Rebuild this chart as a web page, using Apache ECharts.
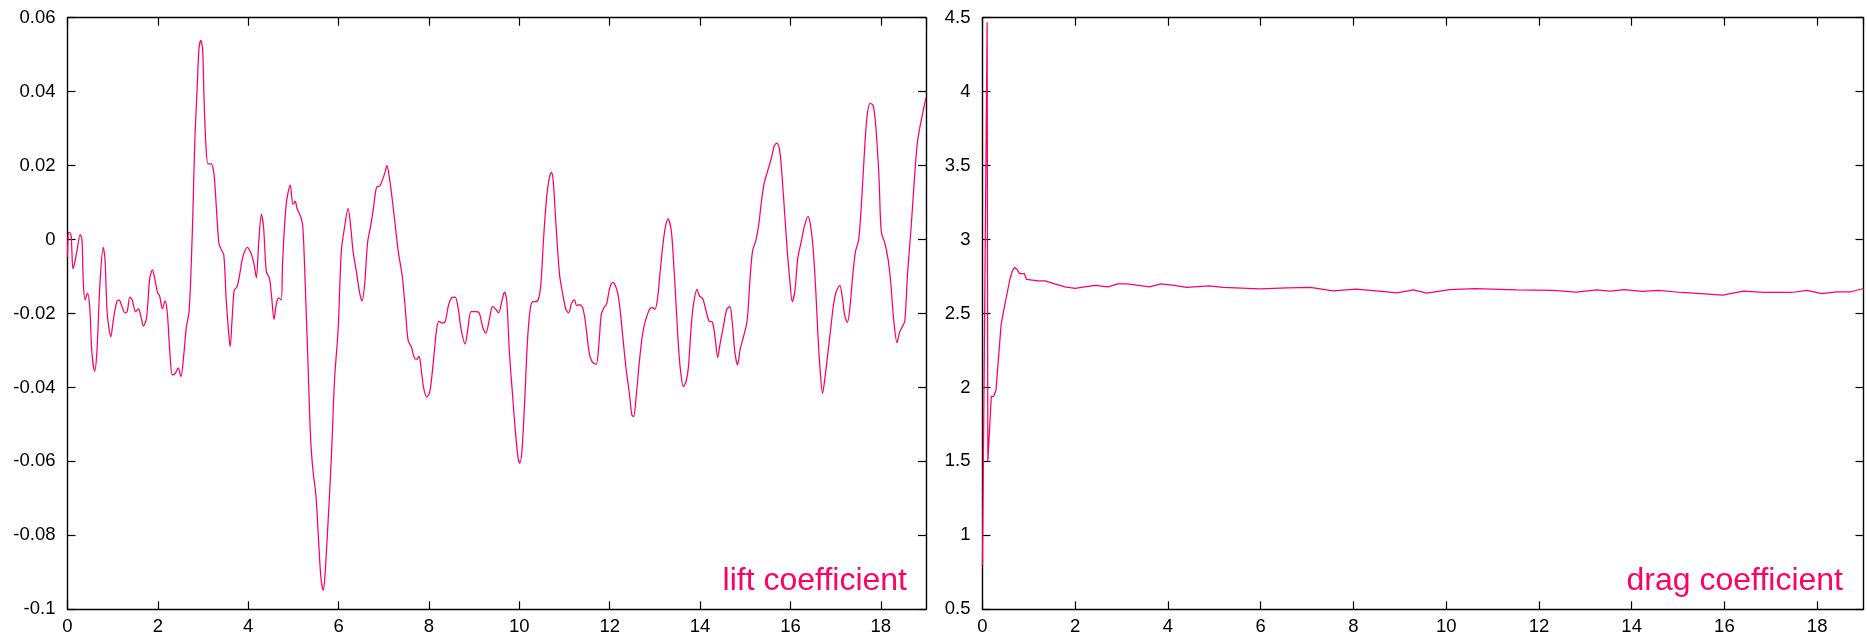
<!DOCTYPE html>
<html><head><meta charset="utf-8">
<script src="https://cdn.jsdelivr.net/npm/echarts@6/dist/echarts.min.js"></script>
<style>html,body{margin:0;padding:0;background:#fff}#c{width:1867px;height:637px}</style>
</head><body><div id="c"></div>
<script>
const liftT = [0.00,0.02,0.044,0.08,0.12,0.15,0.21,0.28,0.32,0.35,0.39,0.44,0.49,0.54,0.60,0.65,0.72,0.79,0.83,0.88,0.96,1.01,1.09,1.14,1.20,1.27,1.32,1.38,1.43,1.51,1.57,1.63,1.68,1.75,1.82,1.88,1.93,1.99,2.04,2.10,2.16,2.21,2.26,2.32,2.38,2.45,2.51,2.57,2.63,2.69,2.74,2.78,2.82,2.87,2.91,2.95,2.99,3.02,3.06,3.11,3.18,3.24,3.29,3.35,3.40,3.46,3.51,3.56,3.60,3.64,3.69,3.75,3.81,3.88,3.98,4.07,4.13,4.18,4.23,4.29,4.34,4.40,4.47,4.52,4.57,4.62,4.67,4.73,4.76,4.84,4.93,4.99,5.04,5.08,5.17,5.21,5.26,5.32,5.38,5.43,5.50,5.56,5.61,5.66,5.70,5.76,5.84,5.91,5.99,6.06,6.13,6.21,6.27,6.32,6.39,6.47,6.52,6.58,6.64,6.71,6.77,6.84,6.91,6.96,7.02,7.07,7.11,7.17,7.24,7.32,7.41,7.47,7.54,7.61,7.67,7.73,7.78,7.82,7.88,7.95,8.02,8.10,8.17,8.22,8.30,8.36,8.43,8.50,8.58,8.65,8.71,8.80,8.86,8.93,9.02,9.11,9.19,9.26,9.34,9.41,9.48,9.54,9.62,9.67,9.72,9.78,9.85,9.91,9.97,10.01,10.06,10.12,10.18,10.24,10.30,10.37,10.43,10.48,10.53,10.59,10.65,10.71,10.75,10.81,10.89,10.96,11.03,11.09,11.16,11.22,11.27,11.33,11.40,11.46,11.51,11.56,11.62,11.70,11.76,11.81,11.86,11.93,12.00,12.07,12.13,12.18,12.23,12.29,12.36,12.44,12.49,12.53,12.58,12.66,12.73,12.80,12.88,12.94,13.00,13.06,13.11,13.17,13.23,13.29,13.36,13.41,13.47,13.53,13.58,13.63,13.69,13.74,13.80,13.85,13.93,13.99,14.06,14.13,14.20,14.27,14.33,14.39,14.44,14.52,14.59,14.66,14.71,14.77,14.83,14.89,14.96,15.04,15.10,15.16,15.24,15.30,15.36,15.42,15.48,15.53,15.59,15.64,15.70,15.76,15.81,15.87,15.93,15.99,16.04,16.10,16.16,16.24,16.31,16.39,16.44,16.50,16.56,16.61,16.66,16.71,16.77,16.83,16.89,16.95,17.01,17.09,17.15,17.20,17.26,17.32,17.38,17.44,17.51,17.57,17.63,17.69,17.76,17.83,17.89,17.96,18.01,18.09,18.16,18.22,18.28,18.36,18.41,18.47,18.53,18.59,18.67,18.74,18.81,18.90,19.00];
const liftCl = [-0.0047,0.0019,0.0019,0.0011,-0.0079,-0.0068,-0.0030,0.0013,0.0000,-0.0116,-0.0163,-0.0145,-0.0180,-0.0305,-0.0356,-0.0305,-0.0116,-0.0021,-0.0053,-0.0200,-0.0263,-0.0221,-0.0168,-0.0163,-0.0179,-0.0198,-0.0195,-0.0156,-0.0163,-0.0195,-0.0187,-0.0211,-0.0234,-0.0211,-0.0105,-0.0082,-0.0105,-0.0142,-0.0153,-0.0187,-0.0166,-0.0200,-0.0295,-0.0366,-0.0363,-0.0347,-0.0371,-0.0316,-0.0237,-0.0195,-0.0063,0.0095,0.0274,0.0411,0.0516,0.0539,0.0516,0.0390,0.0263,0.0205,0.0205,0.0179,0.0095,-0.0010,-0.0026,-0.0042,-0.0158,-0.0242,-0.0290,-0.0221,-0.0137,-0.0128,-0.0095,-0.0047,-0.0021,-0.0040,-0.0068,-0.0103,-0.0011,0.0068,0.0032,-0.0086,-0.0105,-0.0158,-0.0216,-0.0176,-0.0158,-0.0163,-0.0063,0.0095,0.0147,0.0095,0.0103,0.0084,0.0058,0.0032,-0.0116,-0.0326,-0.0537,-0.0621,-0.0695,-0.0821,-0.0916,-0.0949,-0.0905,-0.0779,-0.0589,-0.0379,-0.0242,-0.0032,0.0032,0.0084,0.0032,-0.0032,-0.0084,-0.0147,-0.0166,-0.0116,-0.0010,0.0037,0.0084,0.0142,0.0145,0.0158,0.0179,0.0200,0.0179,0.0126,0.0053,-0.0032,-0.0100,-0.0179,-0.0274,-0.0290,-0.0318,-0.0324,-0.0316,-0.0342,-0.0400,-0.0426,-0.0411,-0.0326,-0.0242,-0.0221,-0.0226,-0.0221,-0.0179,-0.0158,-0.0156,-0.0189,-0.0242,-0.0282,-0.0242,-0.0195,-0.0195,-0.0198,-0.0237,-0.0253,-0.0213,-0.0181,-0.0189,-0.0198,-0.0163,-0.0142,-0.0163,-0.0305,-0.0421,-0.0516,-0.0589,-0.0605,-0.0568,-0.0432,-0.0274,-0.0189,-0.0168,-0.0168,-0.0158,-0.0116,-0.0010,0.0095,0.0158,0.0182,0.0158,0.0042,-0.0095,-0.0147,-0.0189,-0.0198,-0.0171,-0.0163,-0.0179,-0.0176,-0.0184,-0.0221,-0.0274,-0.0314,-0.0332,-0.0337,-0.0284,-0.0205,-0.0187,-0.0174,-0.0132,-0.0116,-0.0126,-0.0147,-0.0189,-0.0263,-0.0347,-0.0421,-0.0474,-0.0479,-0.0432,-0.0326,-0.0253,-0.0216,-0.0189,-0.0184,-0.0189,-0.0158,-0.0095,-0.0021,0.0032,0.0056,0.0026,-0.0053,-0.0179,-0.0305,-0.0368,-0.0398,-0.0384,-0.0347,-0.0242,-0.0179,-0.0135,-0.0153,-0.0160,-0.0192,-0.0221,-0.0223,-0.0263,-0.0319,-0.0284,-0.0232,-0.0189,-0.0181,-0.0221,-0.0305,-0.0339,-0.0295,-0.0263,-0.0221,-0.0116,-0.0032,0.0000,0.0042,0.0105,0.0153,0.0179,0.0200,0.0226,0.0253,0.0261,0.0242,0.0179,0.0074,-0.0032,-0.0116,-0.0168,-0.0137,-0.0053,-0.0005,0.0037,0.0063,0.0042,-0.0021,-0.0137,-0.0263,-0.0358,-0.0416,-0.0368,-0.0305,-0.0242,-0.0179,-0.0142,-0.0124,-0.0158,-0.0205,-0.0224,-0.0179,-0.0095,-0.0032,0.0000,0.0095,0.0221,0.0326,0.0368,0.0363,0.0305,0.0168,0.0021,-0.0010,-0.0053,-0.0116,-0.0211,-0.0279,-0.0253,-0.0237,-0.0221,-0.0095,0.0032,0.0158,0.0263,0.0326,0.0384];
const dragT = [0,0.10,0.115,0.15,0.19,0.24,0.29,0.34,0.40,0.45,0.52,0.59,0.645,0.69,0.74,0.80,0.85,0.90,0.95,0.99,1.20,1.35,1.56,1.78,2.00,2.20,2.43,2.71,2.92,3.13,3.60,3.85,4.14,4.40,4.89,5.19,5.98,6.57,7.07,7.56,8.05,8.55,8.94,9.29,9.58,10.08,10.62,11.51,12.30,12.80,13.24,13.54,13.84,14.23,14.58,15.07,15.57,15.96,16.41,16.85,17.45,17.79,18.09,18.43,18.73,19.00];
const dragCd = [0.80,4.47,1.50,1.50,1.94,1.94,1.98,2.18,2.42,2.51,2.62,2.73,2.79,2.81,2.80,2.77,2.77,2.77,2.73,2.73,2.72,2.72,2.70,2.68,2.67,2.68,2.69,2.68,2.70,2.70,2.68,2.70,2.69,2.676,2.687,2.676,2.667,2.674,2.676,2.653,2.664,2.651,2.640,2.660,2.638,2.662,2.669,2.660,2.656,2.644,2.660,2.651,2.662,2.649,2.656,2.642,2.633,2.624,2.651,2.642,2.642,2.656,2.635,2.647,2.647,2.669];
const xRange = {min: 0, max: 19, interval: 2};
const liftRange = {min: -0.1, max: 0.06, interval: 0.02};
const dragRange = {min: 0.5, max: 4.5, interval: 0.5};
const labels = ['lift coefficient', 'drag coefficient'];

const LINE = '#ff0066';
const FONT = '"Liberation Sans", Arial, sans-serif';
const axisLineStyle = {color: '#000', width: 1.4};
function axis(grid, pos, range, showLabel, isX) {
  return {
    type: 'value', gridIndex: grid, position: pos,
    min: range.min, max: range.max, interval: range.interval,
    axisLine: {show: true, onZero: false, lineStyle: axisLineStyle},
    axisTick: {show: true, inside: true, length: 8, lineStyle: {color: '#000', width: 1.2}},
    axisLabel: {show: showLabel, margin: isX ? 8 : 12, fontSize: 18.5, color: '#000', fontFamily: FONT,
      showMaxLabel: isX ? false : true, showMinLabel: true,
      formatter: v => String(+v.toFixed(2))},
    splitLine: {show: false}
  };
}
const chart = echarts.init(document.getElementById('c'), null, {renderer: 'canvas'});
chart.setOption({
  animation: false,
  backgroundColor: '#fff',
  grid: [
    {left: 67.5, top: 17.7, width: 858.5, height: 591.6, outerBoundsMode: 'none', containLabel: false},
    {left: 982.5, top: 17.7, width: 881, height: 591.6, outerBoundsMode: 'none', containLabel: false}
  ],
  xAxis: [
    axis(0, 'bottom', xRange, true, true),
    axis(0, 'top', xRange, false, true),
    axis(1, 'bottom', xRange, true, true),
    axis(1, 'top', xRange, false, true)
  ],
  yAxis: [
    axis(0, 'left', liftRange, true, false),
    axis(0, 'right', liftRange, false, false),
    axis(1, 'left', dragRange, true, false),
    axis(1, 'right', dragRange, false, false)
  ],
  series: [
    {type: 'line', xAxisIndex: 0, yAxisIndex: 0, data: liftT.map((t, i) => [t, liftCl[i]]),
     showSymbol: false, smooth: 0.3, lineStyle: {color: LINE, width: 1.25}, silent: true},
    {type: 'line', xAxisIndex: 2, yAxisIndex: 2, data: dragT.map((t, i) => [t, dragCd[i]]),
     showSymbol: false, smooth: false, lineStyle: {color: LINE, width: 1.25}, silent: true}
  ],
  graphic: [
    {type: 'text', x: 907, y: 581, style: {text: labels[0], fill: LINE, font: '32px ' + FONT, align: 'right', verticalAlign: 'middle'}},
    {type: 'text', x: 1843, y: 581, style: {text: labels[1], fill: LINE, font: '32px ' + FONT, align: 'right', verticalAlign: 'middle'}}
  ]
});
</script></body></html>
